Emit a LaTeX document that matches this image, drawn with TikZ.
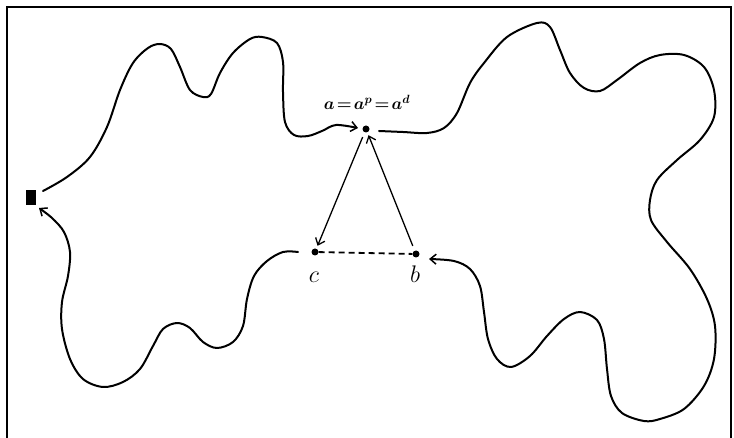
\documentclass[tikz,border=0pt]{standalone}
\usepackage{fix-cm}
\usetikzlibrary{arrows.meta}
\begin{document}
\begin{tikzpicture}[x=1pt,y=-1pt,
  curve/.style={line width=2pt, line cap=round, line join=round},
  tip/.style={-{Straight Barb[length=6pt,width=10pt,line width=1.5pt]}},
  dot/.style={circle, fill=black, inner sep=0pt, minimum size=7pt},
  lab/.style={font=\fontsize{17}{19}\selectfont\boldmath, inner sep=0pt},
  letter/.style={font=\fontsize{24}{26}\selectfont, inner sep=0pt},
  edge/.style={line width=1.3pt, -{Straight Barb[length=6pt,width=10pt,line width=1.3pt]}}]
\useasboundingbox (0,0) rectangle (734,438);
% frame
\draw[line width=2.6pt] (7,445) -- (7,7) -- (731,7) -- (731,445);
% nodes
\node[dot] (a) at (366,129) {};
\node[dot] (c) at (315,252) {};
\node[dot] (b) at (416,254) {};
\node[rectangle, fill=black, inner sep=0pt, minimum width=10pt, minimum height=15pt] (s) at (31,198) {};
\node[lab] (la) at (367,102) {$a\!=\!a^{p}\!=\!a^{d}$};
\node[letter] (lc) at (314,277) {$c$};
\node[letter] (lb) at (415,274) {$b$};
% triangle
\draw[edge, shorten <=5pt, shorten >=3pt] (a) -- (c);
\draw[edge, shorten <=5pt, shorten >=3pt] (b) -- (a);
\draw[line width=1.8pt, dash pattern=on 6pt off 4pt] (c) -- (b);
% wavy boundary curves
\draw[curve, tip] plot[smooth, tension=0.55] coordinates {
 (43,191) (67,177) (90,157) (107,127) (120,90) (133,63) (148,48) (160,44)
 (171,49) (180,67) (190,90) (203,97) (211,94) (220,73) (233,53) (250,39)
 (262,37) (277,43) (283,62) (283,92) (285,122) (294,135) (308,136) (322,131)
 (336,125) (358,128)};
\draw[curve, tip] plot[smooth, tension=0.55] coordinates {
 (379,131) (403,132) (427,133) (444,128) (457,113) (470,83) (484,63) (507,37)
 (537,23) (550,27) (560,50) (570,73) (584,88) (600,91) (617,80) (640,63)
 (660,55) (684,55) (704,67) (714,90) (714,117) (700,140) (677,160) (657,180)
 (650,200) (651,220) (667,242) (690,269) (707,299) (715,326) (714,359) (704,386)
 (684,409) (660,419) (644,421) (622,413) (611,396) (607,369) (604,339) (597,320)
 (580,312) (564,319) (547,336) (530,356) (511,367) (497,359) (488,339) (484,312)
 (480,286) (470,269) (454,261) (429,259)};
\draw[curve, tip] plot[smooth, tension=0.55] coordinates {
 (298,252) (283,252) (267,261) (254,276) (247,299) (243,326) (233,342) (217,348)
 (203,342) (190,328) (177,323) (163,329) (153,346) (140,369) (123,382) (103,387)
 (83,379) (70,359) (62,329) (62,302) (68,276) (70,252) (64,232) (52,218) (39,208)};
\end{tikzpicture}
\end{document}
